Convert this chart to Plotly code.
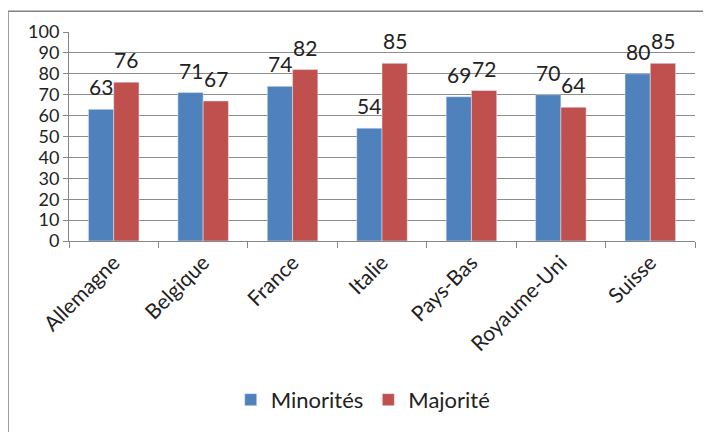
import plotly.graph_objects as go

categories = ["Allemagne", "Belgique", "France", "Italie", "Pays-Bas", "Royaume-Uni", "Suisse"]
minorites = [63, 71, 74, 54, 69, 70, 80]
majorite = [76, 67, 82, 85, 72, 64, 85]
series_names = ["Minorités", "Majorité"]
y_ticks = list(range(0, 101, 10))

BLUE = "#4F81BD"
RED = "#C0504D"
FONT = "Lato, Open Sans, sans-serif"

# page body adds an 8px offset; compensate so the picture lands at the intended place
OFF = 8
W, H = 711 - OFF, 432 - OFF
ml, mt = 69 - OFF, 32 - OFF
pw, ph = 626, 212
mr, mb = W - ml - pw, H - mt - ph

fig = go.Figure()
fig.add_trace(go.Bar(x=categories, y=minorites, name=series_names[0], marker_color=BLUE))
fig.add_trace(go.Bar(x=categories, y=majorite, name=series_names[1], marker_color=RED))

bar_px = pw / len(categories) * 0.565 / 2
annotations = []
for vals, shift in ((minorites, -bar_px / 2), (majorite, bar_px / 2)):
    for c, v in zip(categories, vals):
        annotations.append(dict(x=c, y=v, xref="x", yref="y", text=str(v), showarrow=False,
                                xshift=shift, yanchor="bottom", yshift=8,
                                font=dict(family=FONT, size=21, color="#222")))

fig.update_layout(
    width=W, height=H,
    margin=dict(l=ml, r=mr, t=mt, b=mb),
    paper_bgcolor="white", plot_bgcolor="white",
    barmode="group", bargap=0.435, bargroupgap=0,
    font=dict(family=FONT, size=17, color="#222"),
    showlegend=True,
    legend=dict(orientation="h", x=0.47, xanchor="center", y=-0.76, yanchor="middle",
                font=dict(family=FONT, size=22, color="#222"), itemwidth=30,
                traceorder="normal"),
    annotations=annotations,
    xaxis=dict(type="category", tickangle=-45, showline=True, linecolor="#868686", linewidth=1,
               ticks="outside", tickson="boundaries", ticklen=6, tickcolor="#868686",
               showgrid=False, automargin=False,
               tickfont=dict(family=FONT, size=21, color="#222")),
    yaxis=dict(range=[0, 100], tickvals=y_ticks, showline=True, linecolor="#868686", linewidth=1,
               ticks="outside", ticklen=5, tickcolor="#868686", showgrid=True,
               gridcolor="#8c8c8c", gridwidth=1, zeroline=False, automargin=False,
               tickfont=dict(family=FONT, size=18, color="#222")),
    shapes=[dict(type="rect", xref="paper", yref="paper",
                 x0=(0 - ml) / pw, x1=(W + 10 - ml) / pw,
                 y0=1 - (H + 10 - mt) / ph, y1=1 + (mt - 3) / ph,
                 line=dict(color="#808080", width=1.5), layer="below")],
)

fig.write_html("out.html")
